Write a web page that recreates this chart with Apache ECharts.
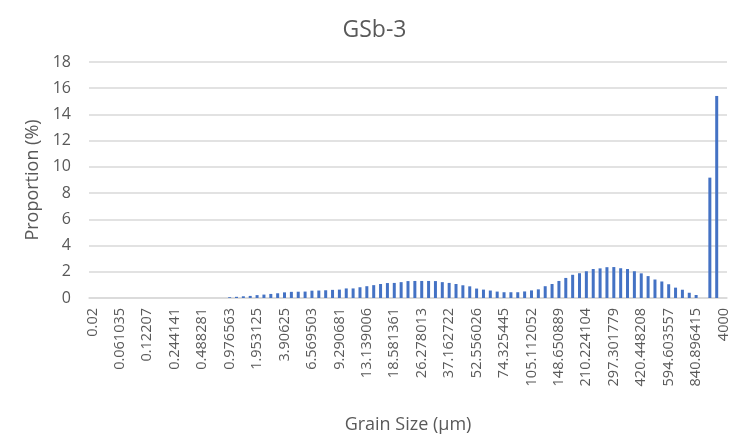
<!DOCTYPE html>
<html>
<head>
<meta charset="utf-8">
<script src="https://cdn.jsdelivr.net/npm/echarts@6/dist/echarts.min.js"></script>
<style>
  html, body { margin: 0; padding: 0; background: #ffffff; }
  #chart { width: 749px; height: 438px; }
</style>
</head>
<body>
<div id="chart"></div>
<script>
// Grain size classes (µm), one per bar slot
const grainSizes = [
  '0.02', '0.03629', '0.043158', '0.051323',
  '0.061035', '0.072583', '0.086317', '0.102646',
  '0.12207', '0.145166', '0.172633', '0.205297',
  '0.244141', '0.290334', '0.345267', '0.410594',
  '0.488281', '0.580668', '0.690534', '0.821189',
  '0.976563', '1.161335', '1.381068', '1.642412',
  '1.953125', '2.322671', '2.762136', '3.284824',
  '3.90625', '4.645343', '5.524272', '6.024264',
  '6.569503', '7.164089', '7.8125', '8.519587',
  '9.290681', '10.131555', '11.048543', '12.048529',
  '13.139006', '14.328178', '15.625', '17.039175',
  '18.581361', '20.263111', '22.097087', '24.097058',
  '26.278013', '28.656355', '31.25', '34.07835',
  '37.162722', '40.526222', '44.194174', '48.194115',
  '52.556026', '57.31271', '62.5', '68.156701',
  '74.325445', '81.052444', '88.388348', '96.388231',
  '105.112052', '114.62542', '125', '136.313402',
  '148.650889', '162.104888', '176.776695', '192.776461',
  '210.224104', '229.25084', '250', '272.626804',
  '297.301779', '324.209777', '353.553391', '385.552923',
  '420.448208', '458.50168', '500', '545.253609',
  '594.603557', '648.419554', '707.106781', '771.105846',
  '840.896415', '917.00336', '1000', '2000',
  '4000'
];

// Proportion (%) of each grain size class
const proportion = [
  0, 0, 0, 0, 0, 0, 0, 0, 0, 0,
  0, 0, 0, 0, 0, 0, 0, 0, 0, 0,
  0.06, 0.09, 0.13, 0.16, 0.22, 0.26, 0.31, 0.36, 0.43, 0.47,
  0.48, 0.49, 0.56, 0.57, 0.59, 0.62, 0.64, 0.73, 0.73, 0.82,
  0.90, 0.98, 1.07, 1.14, 1.15, 1.21, 1.29, 1.30, 1.30, 1.30,
  1.29, 1.21, 1.15, 1.07, 0.97, 0.89, 0.72, 0.64, 0.57, 0.49,
  0.44, 0.44, 0.44, 0.50, 0.58, 0.66, 0.90, 1.07, 1.30, 1.53,
  1.77, 1.89, 2.04, 2.21, 2.26, 2.35, 2.36, 2.27, 2.21, 2.04,
  1.88, 1.67, 1.41, 1.26, 1.05, 0.79, 0.63, 0.40, 0.23, 0,
  9.18, 15.41, 0
];

// Value axis ticks
const yTicks = { min: 0, max: 18, step: 2 };

const textColor = '#595959';
const gridColor = '#d9d9d9';
const fontFamily = '"Open Sans", "Noto Sans", sans-serif';

const chart = echarts.init(document.getElementById('chart'), null, { renderer: 'canvas' });

chart.setOption({
  backgroundColor: '#ffffff',
  animation: false,
  textStyle: { fontFamily: fontFamily },
  title: {
    text: 'GSb-3',
    left: 'center',
    top: 14,
    textStyle: { fontSize: 23, fontWeight: 'normal', color: textColor, fontFamily: fontFamily }
  },
  grid: { left: 89, right: 22, top: 62, bottom: 140, containLabel: false, outerBoundsMode: 'none' },
  xAxis: {
    type: 'category',
    data: grainSizes,
    name: 'Grain Size (µm)',
    nameLocation: 'middle',
    nameGap: 118,
    nameTextStyle: { fontSize: 18, color: textColor, fontFamily: fontFamily },
    axisLine: { lineStyle: { color: gridColor, width: 1.5 } },
    axisTick: { show: false },
    axisLabel: {
      interval: 3,
      rotate: 90,
      margin: 10,
      fontSize: 14.5,
      color: textColor,
      fontFamily: fontFamily
    }
  },
  yAxis: {
    type: 'value',
    min: yTicks.min,
    max: yTicks.max,
    interval: yTicks.step,
    name: 'Proportion (%)',
    nameLocation: 'middle',
    nameRotate: 90,
    nameGap: 47,
    nameTextStyle: { fontSize: 18, color: textColor, fontFamily: fontFamily },
    axisLine: { show: false },
    axisTick: { show: false },
    splitLine: { lineStyle: { color: gridColor, width: 1.5 } },
    axisLabel: { margin: 18, fontSize: 16, color: textColor, fontFamily: fontFamily }
  },
  series: [{
    type: 'bar',
    data: proportion,
    barWidth: 3,
    itemStyle: { color: '#4472c4' }
  }]
});
</script>
</body>
</html>
